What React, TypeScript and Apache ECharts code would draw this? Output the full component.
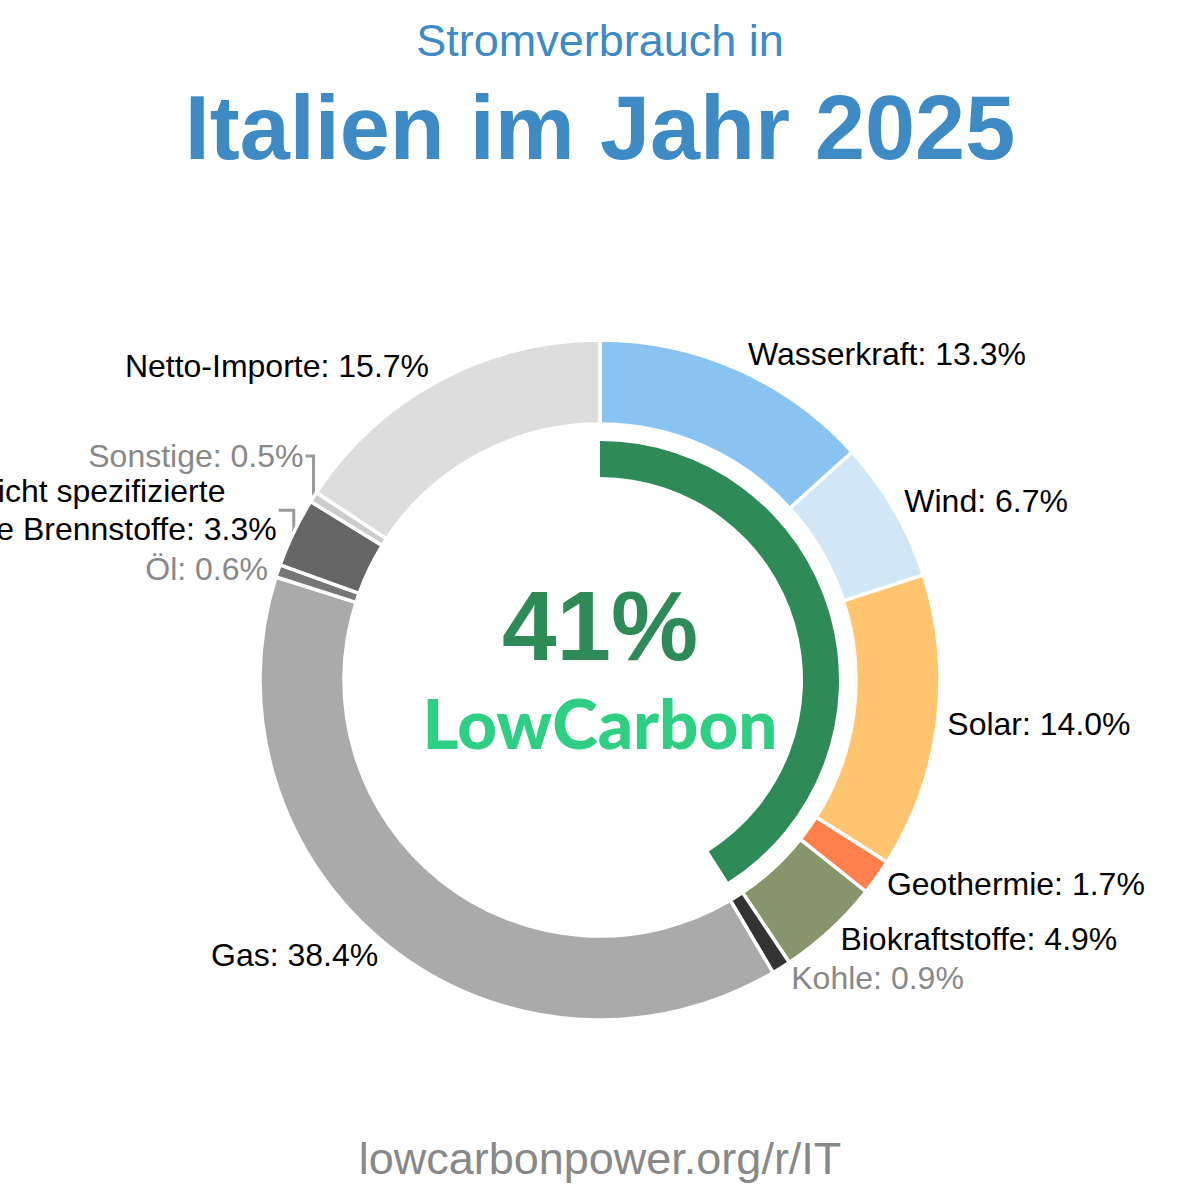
import React, { useEffect, useRef } from "react";
import * as echarts from "echarts";

const categories = [
  "Wasserkraft",
  "Wind",
  "Solar",
  "Geothermie",
  "Biokraftstoffe",
  "Kohle",
  "Gas",
  "Öl",
  "Nicht spezifizierte\nfossile Brennstoffe",
  "Sonstige",
  "Netto-Importe",
];
const shares = [13.3, 6.7, 14.0, 1.7, 4.9, 0.9, 38.4, 0.6, 3.3, 0.5, 15.7];
const lowCarbonShare = 41;
const subtitle = "Stromverbrauch in";
const title = "Italien im Jahr 2025";
const brand = "LowCarbon";
const footer = "lowcarbonpower.org/r/IT";

// styles
const sliceColors = [
  "#89c3f2",
  "#d1e6f7",
  "#ffc470",
  "#ff7f4d",
  "#86956b",
  "#333333",
  "#aaaaaa",
  "#777777",
  "#666666",
  "#cccccc",
  "#dddddd",
];
const mutedLabels = ["Kohle", "Öl", "Sonstige"];
const elbowLabels = ["Sonstige", "Nicht spezifizierte\nfossile Brennstoffe"];
const labelNudge: Record<string, { dx: number; dy: number; elbow?: boolean }> = {
  Sonstige: { dx: 0, dy: -41, elbow: true },
  "Nicht spezifizierte\nfossile Brennstoffe": { dx: -7, dy: -22, elbow: true },
  "Öl": { dx: 0, dy: -2 },
};
const FONT = "'Liberation Sans', Arial, sans-serif";
const BLUE = "#3d8ac5";
const CX = 600;
const CY = 680;
const R_OUT = 340;

export default function App() {
  const ref = useRef<HTMLDivElement>(null);
  useEffect(() => {
    document.body.style.margin = "0";
    const chart = echarts.init(ref.current!, null, { renderer: "svg" });
    const labelSize = 32;
    const option: any = {
      animation: false,
      backgroundColor: "#ffffff",
      graphic: [
        {
          type: "text",
          x: 600,
          y: 40,
          style: { text: subtitle, fill: BLUE, font: `45px ${FONT}`, align: "center", verticalAlign: "middle" },
        },
        {
          type: "text",
          x: 600,
          y: 128,
          style: { text: title, fill: BLUE, font: `bold 90px ${FONT}`, align: "center", verticalAlign: "middle" },
        },
        {
          type: "text",
          x: 600,
          y: 626,
          style: {
            text: `${lowCarbonShare}%`,
            fill: "#2e8b57",
            font: `bold 98px ${FONT}`,
            align: "center",
            verticalAlign: "middle",
          },
        },
        {
          type: "text",
          x: 600,
          y: 722,
          style: {
            text: brand,
            fill: "#2ecf82",
            font: `900 69px Lato, 'Open Sans', sans-serif`,
            align: "center",
            verticalAlign: "middle",
          },
        },
        {
          type: "text",
          x: 600,
          y: 1158,
          style: { text: footer, fill: "#888888", font: `45px ${FONT}`, align: "center", verticalAlign: "middle" },
        },
      ],
      series: [
        {
          type: "pie",
          center: [CX, CY],
          radius: [256, R_OUT],
          startAngle: 90,
          clockwise: true,
          avoidLabelOverlap: false,
          silent: true,
          itemStyle: { borderColor: "#ffffff", borderWidth: 3.5 },
          label: {
            show: true,
            position: "outside",
            distanceToLabelLine: 10,
            fontFamily: FONT,
            fontSize: labelSize,
            color: "#000000",
            formatter: (p: any) => {
              const key = mutedLabels.includes(p.name) ? "g" : "c";
              const lines = `${p.name}: ${p.value.toFixed(1)}%`.split("\n");
              return lines.map((l: string) => `{${key}|${l}}`).join("\n");
            },
            rich: {
              c: { align: "center", fontFamily: FONT, fontSize: labelSize, color: "#000000", lineHeight: 38 },
              g: { align: "center", fontFamily: FONT, fontSize: labelSize, color: "#888888", lineHeight: 38 },
            },
          },
          labelLine: {
            show: false,
            length: 0,
            length2: 0,
            lineStyle: { color: "#999999", width: 3 },
          },
          labelLayout: (p: any) => {
            const name = categories[p.dataIndex];
            const r = p.labelRect;
            const rcy = r.y + r.height / 2;
            const c = (rcy - CY) / R_OUT; // -cos(angle)
            const k = c < 0 ? 17 : 12;
            const n = labelNudge[name];
            const out: any = { dx: 0, dy: c * k };
            if (!n) return out;
            out.dx = n.dx;
            out.dy = n.dy;
            const pts = p.labelLinePoints;
            if (n.elbow && pts) {
              const ly = rcy + n.dy;
              const right = r.x + r.width + n.dx + 2;
              out.labelLinePoints = [pts[0], [pts[0][0], ly], [right, ly]];
            }
            return out;
          },
          emphasis: { disabled: true },
          data: categories.map((name, i) => ({
            name,
            value: shares[i],
            itemStyle: { color: sliceColors[i] },
            labelLine: { show: elbowLabels.includes(name) },
          })),
        },
        {
          type: "pie",
          center: [CX, CY],
          radius: [203, 239],
          startAngle: 90,
          clockwise: true,
          silent: true,
          label: { show: false },
          labelLine: { show: false },
          emphasis: { disabled: true },
          data: [
            { name: "low", value: lowCarbonShare, itemStyle: { color: "#2e8b57" } },
            { name: "rest", value: 100 - lowCarbonShare, itemStyle: { color: "rgba(0,0,0,0)" } },
          ],
        },
      ],
    };
    chart.setOption(option);
    return () => chart.dispose();
  }, []);
  return <div ref={ref} style={{ width: 1200, height: 1200 }} />;
}
